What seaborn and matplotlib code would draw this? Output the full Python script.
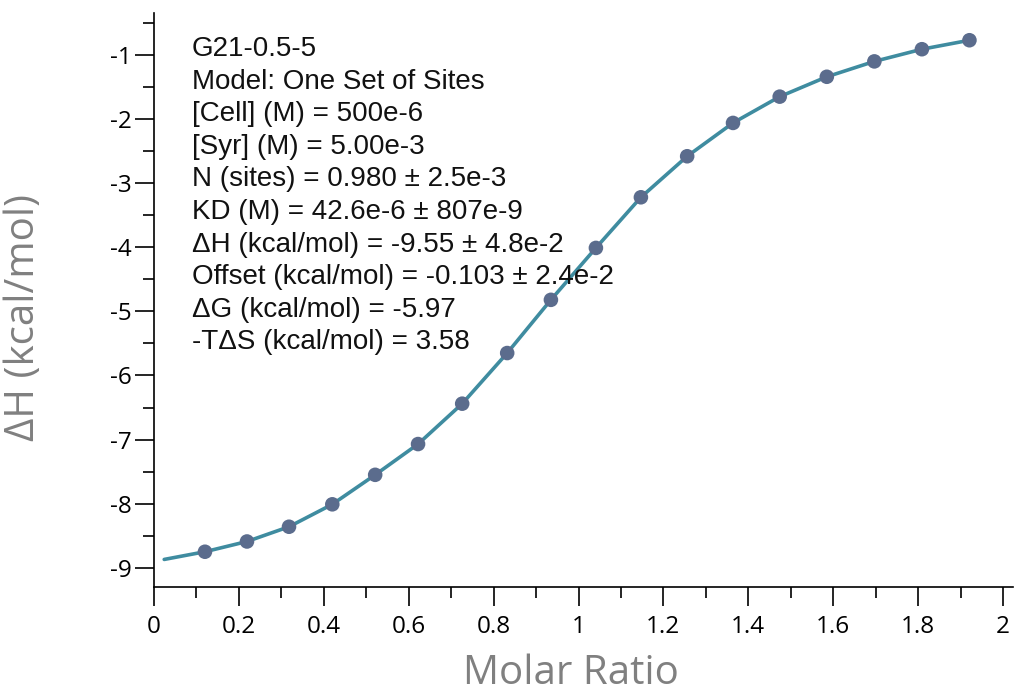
import matplotlib
matplotlib.use("Agg")
import matplotlib.pyplot as plt
import seaborn as sns
import pandas as pd
from matplotlib.ticker import MultipleLocator

# Integrated heats per injection (molar ratio vs kcal/mol of injectant)
molar_ratio = [0.120, 0.219, 0.318, 0.420, 0.521, 0.622, 0.726, 0.832, 0.935,
               1.041, 1.147, 1.256, 1.364, 1.474, 1.585, 1.697, 1.809, 1.921]
delta_h = [-8.75, -8.59, -8.36, -8.01, -7.55, -7.07, -6.44, -5.65, -4.82,
           -4.01, -3.22, -2.58, -2.06, -1.65, -1.34, -1.10, -0.91, -0.77]

# Fitted curve evaluated at every injection, including the first one
fit_ratio = [0.024] + molar_ratio
fit_dh = [-8.87] + delta_h

fit_lines = [
    "G21-0.5-5",
    "Model: One Set of Sites",
    "[Cell] (M) = 500e-6",
    "[Syr] (M) = 5.00e-3",
    "N (sites) = 0.980 \u00b1 2.5e-3",
    "KD (M) = 42.6e-6 \u00b1 807e-9",
    "\u0394H (kcal/mol) = -9.55 \u00b1 4.8e-2",
    "Offset (kcal/mol) = -0.103 \u00b1 2.4e-2",
    "\u0394G (kcal/mol) = -5.97",
    "-T\u0394S (kcal/mol) = 3.58",
]

x_label = "Molar Ratio"
y_label = "\u0394H (kcal/mol)"

points = pd.DataFrame({"ratio": molar_ratio, "dh": delta_h})
fit = pd.DataFrame({"ratio": fit_ratio, "dh": fit_dh})

sns.set_style("ticks")
plt.rcParams["font.family"] = ["Open Sans", "DejaVu Sans"]

fig = plt.figure(figsize=(10.16, 6.95), dpi=100)
ax = fig.add_axes([0.1516, 0.1554, 0.8454, 0.8259])

sns.lineplot(data=fit, x="ratio", y="dh", ax=ax, color="#3f8ca0",
             linewidth=2.6, sort=False, zorder=2)
sns.scatterplot(data=points, x="ratio", y="dh", ax=ax, color="#5b6c8d",
                s=110, edgecolor="none", zorder=3)

ax.set_xlim(0, 2.0235)
ax.set_ylim(-9.30, -0.345)
ax.xaxis.set_major_locator(MultipleLocator(0.2))
ax.xaxis.set_minor_locator(MultipleLocator(0.1))
ax.yaxis.set_major_locator(MultipleLocator(1))
ax.yaxis.set_minor_locator(MultipleLocator(0.5))
ax.set_xticks([0, 0.2, 0.4, 0.6, 0.8, 1.0, 1.2, 1.4, 1.6, 1.8, 2.0])
ax.set_xticklabels(["0", "0.2", "0.4", "0.6", "0.8", "1", "1.2", "1.4", "1.6", "1.8", "2"])
ax.set_yticks(range(-9, 0))
ax.set_yticklabels([str(v) for v in range(-9, 0)])

for side in ("top", "right"):
    ax.spines[side].set_visible(False)
for side in ("left", "bottom"):
    ax.spines[side].set_linewidth(1.2)
    ax.spines[side].set_color("black")

ax.tick_params(axis="both", which="major", direction="out", length=14,
               width=1.2, colors="black", labelsize=17.5)
ax.tick_params(axis="both", which="minor", direction="out", length=8,
               width=1.2, colors="black")
ax.tick_params(axis="x", which="major", pad=6)
ax.tick_params(axis="y", which="major", pad=2)

ax.set_xlabel(x_label, fontsize=29, color="#808080")
ax.set_ylabel(y_label, fontsize=29, color="#808080")
ax.xaxis.set_label_coords(0.485, -0.115)
ax.yaxis.set_label_coords(-0.128, 0.47)

# Fit report, one line per parameter
y0 = 49
step = 32.6
for i, line in enumerate(fit_lines):
    fig.text(192 / 1016, 1 - (y0 + i * step) / 695, line,
             fontsize=20, family=["Liberation Sans", "DejaVu Sans"],
             color="#111111", ha="left", va="center")

fig.savefig("out.png", dpi=100)
